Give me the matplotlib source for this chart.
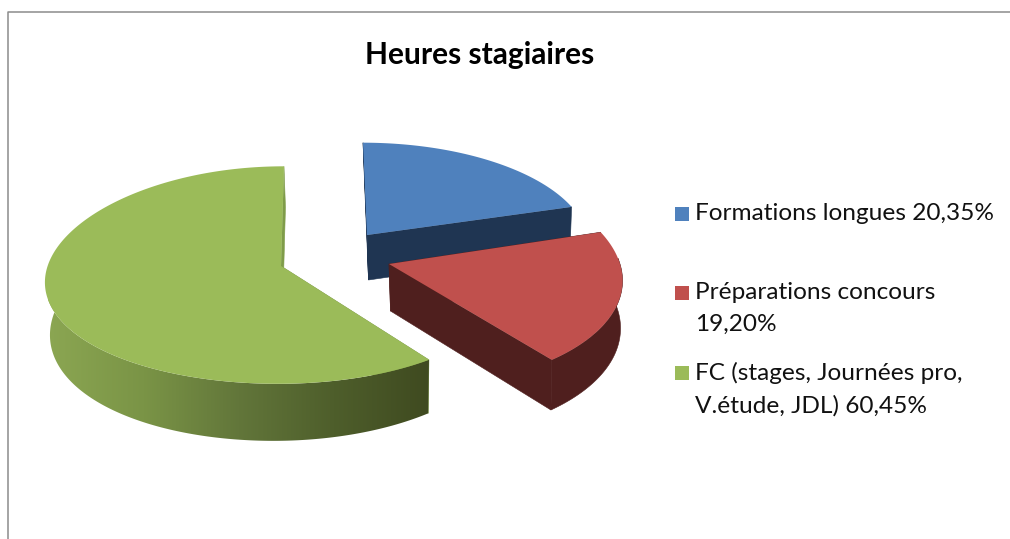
import numpy as np
import matplotlib
matplotlib.use("Agg")
import matplotlib.pyplot as plt
from matplotlib.patches import Polygon, Rectangle
from matplotlib.colors import LinearSegmentedColormap

plt.rcParams['font.family'] = ['Lato', 'DejaVu Sans']

title = "Heures stagiaires"
labels = ["Formations longues 20,35%", "Préparations concours\n19,20%", "FC (stages, Journées pro,\nV.étude, JDL) 60,45%"]
values = [20.35, 19.20, 60.45]
top_colors = ["#4f81bd", "#c0504d", "#9bbb59"]
wall_colors = ["#1f3552", "#4f1f1e", "#7f9c49"]
rim_shades = ["#8ba652", "#7a9446", "#62763a", "#4e5e2b", "#3f4a20"]

# pie geometry in pixels, one apex per exploded slice
apex_x = [367, 389, 281]
apex_y = [235, 264, 266]
rad_left = [220, 231, 235]
rad_right = [220, 231, 230]
rad_y = [100, 113, 108]
shear = [4, 15, -3]
bend = [0, 0, 6]
depth = [45, 47, 49]
depth_slope = [4, 4, 8]
depth_tilt = [0, 0, 3]
persp = 0.0833


def project(i, t, r=1.0, bottom=False):
    X = r * np.cos(t)
    Y = r * np.sin(t)
    w = 1 + persp * Y
    a = np.where(X > 0, rad_right[i], rad_left[i])
    x = a * X / w - shear[i] * Y
    y = -rad_y[i] * Y / w + bend[i] * X**2
    if bottom:
        x = x * 0.985 + 1.5
        y = y + depth[i] - depth_slope[i] * Y - depth_tilt[i] * X
    return apex_x[i] + x, apex_y[i] + y


def arc(i, a0, a1, bottom=False):
    t = np.linspace(a0, a1, 200)
    x, y = project(i, t, bottom=bottom)
    return np.column_stack([x, y])


def ap(i, bottom=False):
    x, y = project(i, 0.0, r=0.0, bottom=bottom)
    return np.array([[float(x), float(y)]])


fig = plt.figure(figsize=(10.10, 5.39), dpi=100)
ax = fig.add_axes([0, 0, 1, 1])
ax.axis("off")

ax.plot([7.5, 7.5, 1010], [539, 11.5, 11.5], color="#8c8c8c", lw=1.1, solid_capstyle="butt")

angles = [np.pi / 2]
for v in values:
    angles.append(angles[-1] - v / sum(values) * 2 * np.pi)

for i in range(3):
    a0, a1 = angles[i], angles[i + 1]
    # straight walls
    for edge in (a0, a1):
        p = arc(i, edge, edge)[:1]
        q = arc(i, edge, edge, bottom=True)[:1]
        wall = np.vstack([ap(i), p, q, ap(i, bottom=True)])
        ax.add_patch(Polygon(wall, closed=True, fc=wall_colors[i], ec=wall_colors[i], lw=0.4, zorder=2 + i))
    # rim, only the front part shows
    lo = max(a1, -np.pi * 1.06)
    hi = min(a0, 0.05)
    if hi > lo:
        rim = np.vstack([arc(i, hi, lo), arc(i, lo, hi, bottom=True)])
        if i == 2:
            poly = Polygon(rim, closed=True, fc="none", ec="none", zorder=2 + i)
            ax.add_patch(poly)
            cmap = LinearSegmentedColormap.from_list("rim", rim_shades)
            grad = np.linspace(0, 1, 256).reshape(1, -1)
            im = ax.imshow(grad, cmap=cmap, extent=[48, 430, 450, 270], aspect="auto", zorder=2 + i)
            im.set_clip_path(poly)
        else:
            ax.add_patch(Polygon(rim, closed=True, fc=wall_colors[i], ec=wall_colors[i], lw=0.4, zorder=2 + i))

for i in range(3):
    a0, a1 = angles[i], angles[i + 1]
    face = np.vstack([ap(i), arc(i, a0, a1)])
    ax.add_patch(Polygon(face, closed=True, fc=top_colors[i], ec="none", zorder=6 + i))

ax.text(480, 55, title, ha="center", va="center", fontsize=21.5, fontweight="bold", color="black")

leg_y = [214, 293, 373]
for i in range(3):
    ax.add_patch(Rectangle((675, leg_y[i] - 7), 14, 14, fc=top_colors[i], ec="none"))
    ax.text(695, leg_y[i] - 11, labels[i], ha="left", va="top", fontsize=17.6, color="#111111", linespacing=1.64)

ax.set_xlim(0, 1010)
ax.set_ylim(539, 0)
fig.savefig("out.png", dpi=100)
